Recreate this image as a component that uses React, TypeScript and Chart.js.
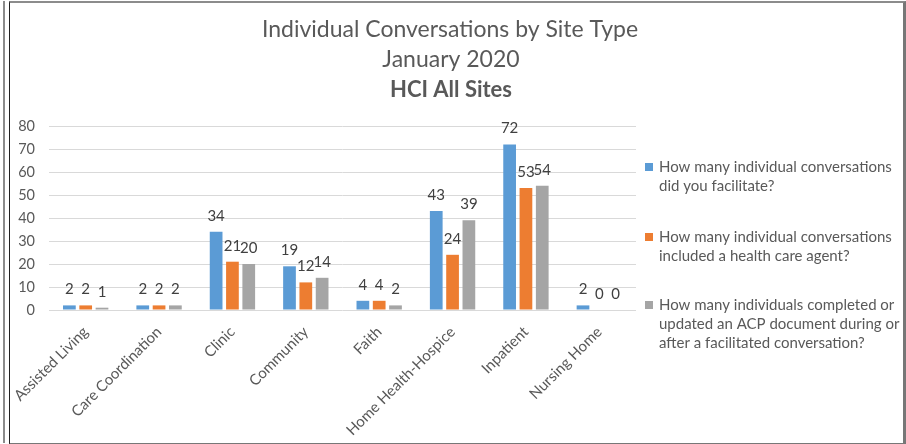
import React, { useEffect, useRef } from "react";
import { Chart, registerables } from "chart.js";

Chart.register(...registerables);

const categories = [
  "Assisted Living",
  "Care Coordination",
  "Clinic",
  "Community",
  "Faith",
  "Home Health-Hospice",
  "Inpatient",
  "Nursing Home",
];
const facilitated = [2, 2, 34, 19, 4, 43, 72, 2];
const withAgent = [2, 2, 21, 12, 4, 24, 53, 0];
const acpCompleted = [1, 2, 20, 14, 2, 39, 54, 0];

const seriesLabels = [
  ["How many individual conversations", "did you facilitate?"],
  ["How many individual conversations", "included a health care agent?"],
  ["How many individuals completed or", "updated an ACP document during or", "after a facilitated conversation?"],
];
const seriesColors = ["#5B9BD5", "#ED7D31", "#A5A5A5"];

const titleLines = ["Individual Conversations by Site Type", "January 2020"];
const subtitleLine = "HCI All Sites";

const yMin = 0;
const yMax = 80;
const yStep = 10;

const FONT = "Lato, 'Open Sans', sans-serif";
const TEXT = "#595959";

const decorPlugin = {
  id: "decor",
  afterDatasetsDraw(chart: any) {
    const ctx = chart.ctx;
    ctx.save();
    ctx.font = `15px ${FONT}`;
    ctx.fillStyle = "#404040";
    ctx.textAlign = "center";
    ctx.textBaseline = "middle";
    chart.data.datasets.forEach((ds: any, i: number) => {
      const meta = chart.getDatasetMeta(i);
      meta.data.forEach((bar: any, j: number) => {
        ctx.fillText(String(ds.data[j]), bar.x, bar.y - 16);
      });
    });
    ctx.restore();
  },
  afterDraw(chart: any) {
    const ctx = chart.ctx;
    ctx.save();
    // titles
    ctx.fillStyle = TEXT;
    ctx.textAlign = "center";
    ctx.textBaseline = "middle";
    ctx.font = `23px ${FONT}`;
    ctx.fillText(titleLines[0], 450, 30);
    ctx.fillText(titleLines[1], 451, 60);
    ctx.font = `bold 22px ${FONT}`;
    ctx.fillText(subtitleLine, 451, 90);
    // legend
    const starts = [167, 237, 305];
    ctx.font = `15px ${FONT}`;
    ctx.textAlign = "left";
    chart.data.datasets.forEach((ds: any, i: number) => {
      const y0 = starts[i];
      ctx.fillStyle = ds.backgroundColor;
      ctx.fillRect(645, y0 - 4, 8, 8);
      ctx.fillStyle = TEXT;
      (ds.label as string[]).forEach((line: string, k: number) => {
        ctx.fillText(line, 659, y0 + k * 19);
      });
    });
    ctx.restore();
  },
};

export default function App() {
  const ref = useRef<HTMLCanvasElement>(null);
  useEffect(() => {
    if (!ref.current) return;
    const chart = new Chart(ref.current, {
      type: "bar",
      data: {
        labels: categories,
        datasets: [
          { label: seriesLabels[0] as any, data: facilitated, backgroundColor: seriesColors[0] },
          { label: seriesLabels[1] as any, data: withAgent, backgroundColor: seriesColors[1] },
          { label: seriesLabels[2] as any, data: acpCompleted, backgroundColor: seriesColors[2] },
        ],
      },
      options: {
        responsive: false,
        animation: false,
        devicePixelRatio: 1,
        layout: { padding: { top: 126, right: 270, left: 0, bottom: 0 } },
        datasets: { bar: { categoryPercentage: 0.667, barPercentage: 0.78 } },
        plugins: { legend: { display: false }, title: { display: false }, tooltip: { enabled: false } },
        scales: {
          x: {
            grid: { display: false, drawTicks: false },
            border: { display: false },
            ticks: {
              autoSkip: false,
              maxRotation: 45,
              minRotation: 45,
              padding: 13,
              color: TEXT,
              font: { family: FONT, size: 15 },
            },
            afterFit(scale: any) {
              scale.height = 134;
            },
          },
          y: {
            min: yMin,
            max: yMax,
            grid: { color: "#D9D9D9", drawTicks: false, lineWidth: 1 },
            border: { display: false },
            ticks: {
              stepSize: yStep,
              padding: 14,
              color: TEXT,
              font: { family: FONT, size: 14.5 },
            },
            afterFit(scale: any) {
              scale.width = 49;
            },
          },
        },
      },
      plugins: [decorPlugin],
    });
    return () => chart.destroy();
  }, []);
  return (
    <div style={{ position: "fixed", left: 0, top: 0, width: 906, height: 444, background: "#fff" }}>
      <canvas ref={ref} width={906} height={444} style={{ position: "absolute", left: 0, top: 0 }} />
      <div style={{ position: "absolute", left: 3, top: 1, width: 2, height: 442, background: "#8c8c8c" }} />
      <div
        style={{
          position: "absolute",
          left: 9,
          top: 1,
          width: 893,
          height: 440,
          borderLeft: "1px solid #222",
          borderTop: "2px solid #8c8c8c",
          borderRight: "3px solid #777",
          borderBottom: "2px solid #777",
          pointerEvents: "none",
        }}
      />
    </div>
  );
}
